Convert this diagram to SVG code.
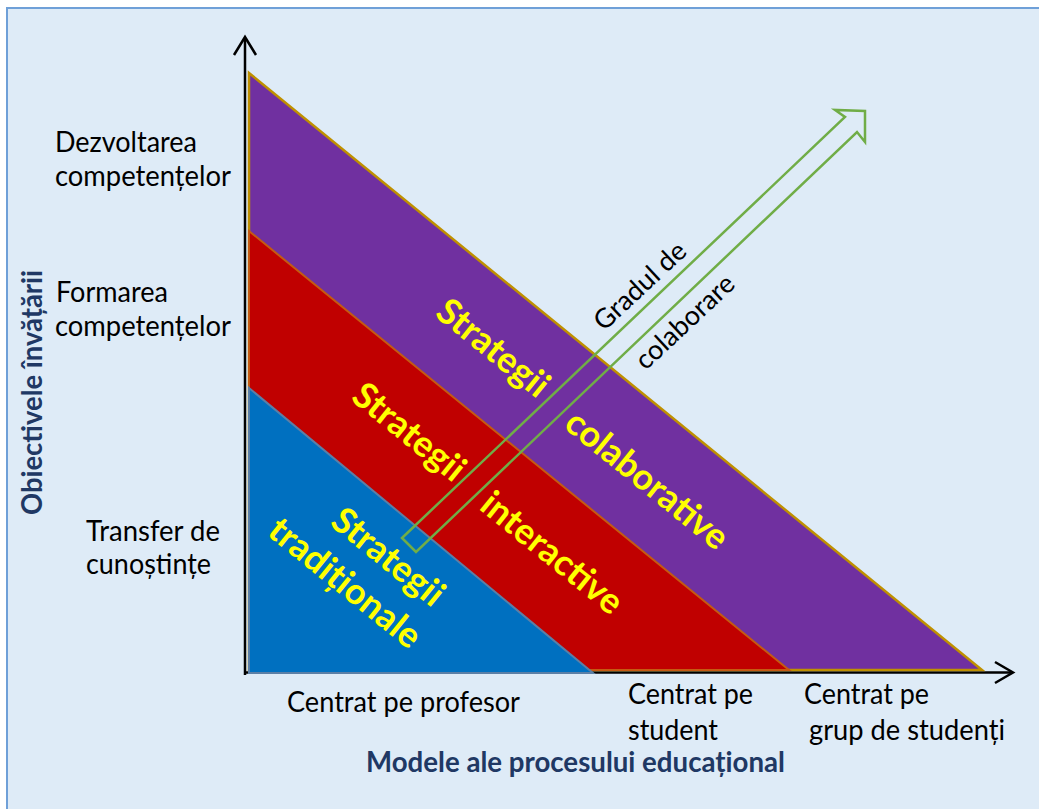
<svg xmlns="http://www.w3.org/2000/svg" width="1039" height="809" viewBox="0 0 1039 809">
<defs>
<style>
.lbl{font-family:Lato,"Carlito","Open Sans",sans-serif;font-size:28px;fill:#000}
.ttl{font-family:Lato,"Carlito","Open Sans",sans-serif;font-size:28px;font-weight:bold;fill:#203864}
.str{font-family:Lato,"Carlito","Open Sans",sans-serif;font-size:36px;font-weight:bold;fill:#ffff00;text-anchor:middle}
.grd{font-family:Lato,"Carlito","Open Sans",sans-serif;font-size:27px;fill:#000;text-anchor:middle}
.axis{stroke:#000;stroke-width:2.5;fill:none}
</style>
</defs>
<rect x="0" y="0" width="1039" height="809" fill="#ffffff"/>
<rect x="7" y="8" width="1050" height="820" fill="#deebf7" stroke="#6fa0d8" stroke-width="2"/>

<g id="axes">
<line class="axis" x1="245" y1="675" x2="245" y2="38"/>
<polyline class="axis" points="234,55 245,37 256,55"/>
<line class="axis" x1="244" y1="672.5" x2="1012" y2="672.5"/>
<polyline class="axis" points="995,662 1013,672.5 995,683"/>
</g>

<g id="zone-colaborative">
<polygon points="249,73 982,670 249,670" fill="#7030a0" stroke="#bf9000" stroke-width="2.5"/>
</g>
<g id="zone-interactive">
<polygon points="249,231 789,670 249,670" fill="#c00000" stroke="#c55a11" stroke-width="2"/>
</g>
<g id="zone-traditionale">
<polygon points="249,388 593,673 249,673" fill="#0070c0" stroke="#5b7fa6" stroke-width="2"/>
</g>

<g id="connectors">
<polygon id="gradul-arrow" points="402,538 845,117 835,110 865,111 865,142 857,132 416,552" fill="none" stroke="#70ad47" stroke-width="2.5" stroke-linejoin="miter"/>
</g>

<g id="strategy-labels">
<text class="str" transform="translate(493,348) rotate(39)" x="0" y="12">Strategii</text>
<text class="str" transform="translate(647,480) rotate(39)" x="0" y="12">colaborative</text>
<text class="str" transform="translate(409,432) rotate(39)" x="0" y="12">Strategii</text>
<text class="str" transform="translate(552,553) rotate(39)" x="0" y="12">interactive</text>
<text class="str" transform="translate(388,557) rotate(39)" x="0" y="12">Strategii</text>
<text class="str" transform="translate(345,583) rotate(39)" x="0" y="12">tradiționale</text>
</g>

<g id="gradul-label">
<text class="grd" transform="translate(640,286) rotate(-43)" x="0" y="9">Gradul de</text>
<text class="grd" transform="translate(685,322) rotate(-43)" x="0" y="9">colaborare</text>
</g>

<g id="y-labels">
<text class="lbl" x="55" y="152" textLength="142" lengthAdjust="spacingAndGlyphs">Dezvoltarea</text>
<text class="lbl" x="55" y="186" textLength="176" lengthAdjust="spacingAndGlyphs">competențelor</text>
<text class="lbl" x="56" y="302" textLength="112" lengthAdjust="spacingAndGlyphs">Formarea</text>
<text class="lbl" x="55" y="336" textLength="176" lengthAdjust="spacingAndGlyphs">competențelor</text>
<text class="lbl" x="86" y="541" textLength="134" lengthAdjust="spacingAndGlyphs">Transfer de</text>
<text class="lbl" x="86" y="574" textLength="125" lengthAdjust="spacingAndGlyphs">cunoștințe</text>
</g>

<g id="x-labels">
<text class="lbl" x="287" y="712" textLength="233" lengthAdjust="spacingAndGlyphs">Centrat pe profesor</text>
<text class="lbl" x="628" y="704" textLength="125" lengthAdjust="spacingAndGlyphs">Centrat pe</text>
<text class="lbl" x="628" y="740" textLength="90" lengthAdjust="spacingAndGlyphs">student</text>
<text class="lbl" x="804" y="704" textLength="125" lengthAdjust="spacingAndGlyphs">Centrat pe</text>
<text class="lbl" x="809" y="740" textLength="196" lengthAdjust="spacingAndGlyphs">grup de studenți</text>
</g>

<g id="titles">
<text class="ttl" x="366" y="772" textLength="419" lengthAdjust="spacingAndGlyphs">Modele ale procesului educațional</text>
<text class="ttl" transform="translate(42,515) rotate(-90)" x="0" y="0" textLength="245" lengthAdjust="spacingAndGlyphs">Obiectivele învățării</text>
</g>
</svg>
